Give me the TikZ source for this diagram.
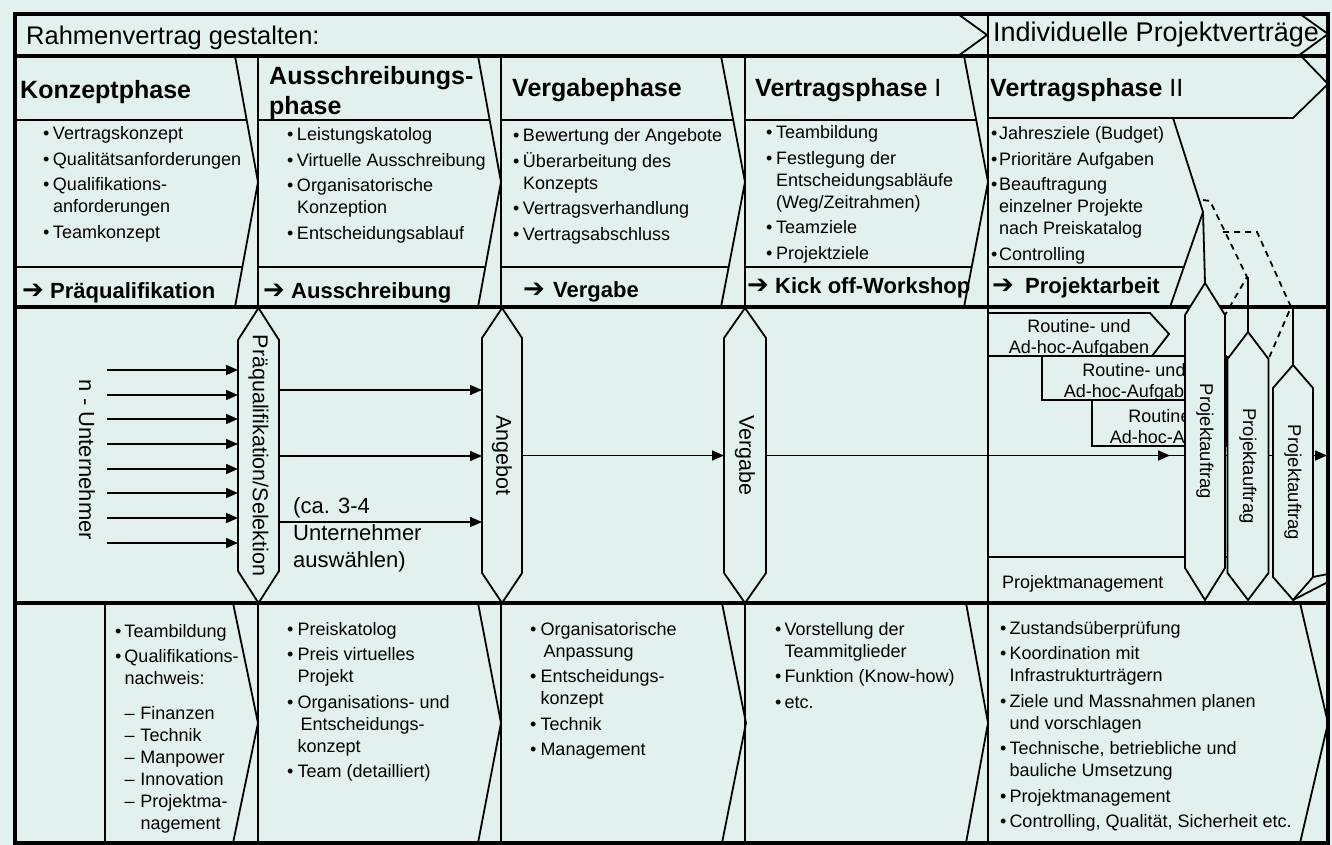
\documentclass[tikz,border=0pt]{standalone}
\usepackage{fontspec}
\setmainfont{Liberation Sans}
\newfontfamily\dejavu{DejaVu Sans}
\usetikzlibrary{arrows.meta,calc}
\definecolor{bgc}{RGB}{226,241,240}
\newcommand\fsz[2]{\fontsize{#1}{#2}\selectfont}
\newcommand\bu{\textbullet}
\newcommand\nx{\\[3.5pt]}
\newcommand\sdash{\makebox[16pt][l]{–}}
\newcommand\harr[1]{\makebox[#1][l]{\dejavu\bfseries\fontsize{26}{26}\selectfont ➔}}
\newenvironment{blist}[1]{\begin{tabular}[t]{@{}l@{\hspace{#1}}l@{}}}{\end{tabular}}
\newcommand\hexshape[2]{%
  \draw[hexl] (#1.north) -- ([yshift=-#2]#1.north east) -- ([yshift=#2]#1.south east)
    -- (#1.south) -- ([yshift=#2]#1.south west) -- ([yshift=-#2]#1.north west) -- cycle;}
\begin{document}
\begin{tikzpicture}[x=1pt,y=-1pt,
  thn/.style={line width=1.8pt},
  thk/.style={line width=3.5pt},
  hexl/.style={draw, fill=bgc, line width=1.8pt, line join=miter},
  arr/.style={line width=1.6pt, -{Triangle[length=12pt,width=10pt]}},
  dsh/.style={line width=1.8pt, dash pattern=on 6pt off 5pt},
  hbox/.style={inner sep=0pt, outer sep=0pt},
  hd/.style={anchor=base west, font=\fsz{25}{30}\bfseries, inner sep=0pt},
  al/.style={anchor=base west, font=\fsz{22}{26}\bfseries, inner sep=0pt},
  ls/.style={anchor=base west, font=\fsz{18}{22}, inner sep=0pt},
  rot/.style={rotate=-90, inner sep=0pt}]
\fill[bgc] (0,0) rectangle (1332,845);
\useasboundingbox (0,0) rectangle (1332,845);

% ---------- structure lines ----------
\draw[thn] (958,14) -- (987,35) -- (958,56);
\draw[thn] (1300,14) -- (1328,34) -- (1298,56);
\draw[thn] (988,14) -- (988,843);
\foreach \xx in {258,501,745} {
  \draw[thn] (\xx,56) -- (\xx,307);
  \draw[thn] (\xx,603) -- (\xx,843);}
\draw[thn] (105,603) -- (105,843);
\foreach \a/\b in {235/258, 478/501, 721/745, 964/988}
  \draw[thn] (\a,56) -- (\b,182) -- (\a,307);
\foreach \a/\b in {233/258, 478/501, 722/746, 966/988, 1300/1328}
  \draw[thn] (\a,603) -- (\b,723) -- (\a,843);
\foreach \a/\b in {15/246.7, 258/489.7, 501/732.7, 745/975.7}
  \draw[thn] (\a,120) -- (\b,120);
\foreach \a/\b in {15/242.3, 258/485.3, 501/728.3, 745/971.3, 988/1184}
  \draw[thn] (\a,267) -- (\b,267);
\draw[thn] (988,118) -- (1293,118) -- (1328,84) -- (1301,56);
\draw[thn] (1173,118) -- (1203,212) -- (1170,307);

\draw[thk] (15,56) -- (1328,56);
\draw[thk] (15,307) -- (1328,307);
\draw[thk] (15,603) -- (1328,603);

% ---------- middle band, right part ----------
\draw[thn] (989,313) -- (1150,313) -- (1169,334) -- (1152,356) -- (989,356);
\draw[thn] (1152,356) -- (1227,356);
\draw[thn] (1042,356) -- (1042,400) -- (1227,400);
\draw[thn] (1092,400) -- (1092,446) -- (1227,446);
\draw[thn] (1227,356) -- (1227,446);
\draw[thn] (988,557) -- (1227,557);
\node[anchor=base, font=\fsz{18}{21}, inner sep=0pt] (rt1) at (1079,332)
  {\begin{tabular}[t]{@{}c@{}}Routine- und\\Ad-hoc-Aufgaben\end{tabular}};
\node[anchor=base, font=\fsz{18}{21}, inner sep=0pt] (rt2) at (1134,376)
  {\begin{tabular}[t]{@{}c@{}}Routine- und\\Ad-hoc-Aufgaben\end{tabular}};
\node[anchor=base, font=\fsz{18}{21}, inner sep=0pt] (rt3) at (1180,422)
  {\begin{tabular}[t]{@{}c@{}}Routine- und\\Ad-hoc-Aufgaben\end{tabular}};
\node[ls] (pm) at (1002,588) {Projektmanagement};

% ---------- hexagon nodes ----------
\node[hbox, minimum width=41pt, minimum height=295pt] (pq) at (258.5,455.5) {};
\node[hbox, minimum width=40pt, minimum height=295pt] (ang) at (502,455.5) {};
\node[hbox, minimum width=42pt, minimum height=295pt] (verg) at (745,455.5) {};
\node[hbox, minimum width=40pt, minimum height=317pt] (pa1) at (1205,441.5) {};
\node[hbox, minimum width=41pt, minimum height=268pt] (pa2) at (1248,466) {};
\node[hbox, minimum width=40pt, minimum height=235pt] (pa3) at (1293,482.5) {};

% main line
\coordinate (tip1) at (1170,455.5);
\coordinate (rend) at (1327,455.5);
\draw[thn] (verg.east) -- (pa3.east |- verg.east);
\draw[arr] (verg.east) -- (tip1);
\draw[arr] (pa3.east |- rend) -- (rend);

\hexshape{pq}{32pt}
\hexshape{ang}{30pt}
\hexshape{verg}{30pt}
\hexshape{pa1}{32pt}
\hexshape{pa2}{27pt}
\hexshape{pa3}{23pt}

\node[rot, font=\fsz{21.5}{26}] (pqt) at (pq.center) {Präqualifikation/Selektion};
\node[rot, font=\fsz{21.5}{26}] (angt) at (ang.center) {Angebot};
\node[rot, font=\fsz{21.5}{26}] (vergt) at (verg.center) {Vergabe};
\node[rot, font=\fsz{18.5}{22}] (pa1t) at (pa1.center) {Projektauftrag};
\node[rot, font=\fsz{18.5}{22}] (pa2t) at (pa2.center) {Projektauftrag};
\node[rot, font=\fsz{18.5}{22}] (pa3t) at (pa3.center) {Projektauftrag};

% right-bottom corner lines
\coordinate (rc1) at (1328,574);
\coordinate (rc2) at (1328,582);
\draw[thn] ([yshift=23pt]pa3.south east) -- (rc1);
\draw[thn] (pa3.south) -- (rc2);

% dashed chevrons and connecting verticals
\draw[dsh] (1203,200) -- (1210,201) -- (1247,277) -- ([yshift=-32pt]pa1.north east);
\draw[dsh] (1223,232) -- (1257,232) -- (1291,307) -- ([yshift=-27pt]pa2.north east);
\coordinate (v1) at (1203,212);
\coordinate (v2) at (1248,277);
\coordinate (v3) at (1293,308);
\draw[thn] (v1) -- (pa1.north);
\draw[thn] (v2) -- (pa2.north);
\draw[thn] (v3) -- (pa3.north);

% ---------- left middle: n - Unternehmer ----------
\node[rot, font=\fsz{22}{26}] (nu) at (87,460) {n - Unternehmer};
\foreach \yy [count=\i] in {370,395,419,444,469,493,518,543} {
  \coordinate (u\i) at (107,\yy);
  \draw[arr] (u\i) -- (u\i -| pq.west);}
\coordinate (yA) at (0,390);
\coordinate (yB) at (0,456);
\coordinate (yC) at (0,522);
\draw[arr] (pq.east |- yA) -- (ang.west |- yA);
\draw[arr] (pq.east |- yB) -- (ang.west |- yB);
\draw[arr] (pq.east |- yC) -- (ang.west |- yC);
\draw[arr] (ang.east) -- (verg.west);
\node[anchor=base west, font=\fsz{22}{27}, inner sep=0pt] (ca) at (293,513)
  {\begin{tabular}[t]{@{}l@{}}(ca. 3-4\\Unternehmer\\auswählen)\end{tabular}};

% ---------- top band texts ----------
\node[anchor=base west, font=\fsz{25.5}{30}, inner sep=0pt] (rv) at (26,45) {Rahmenvertrag gestalten:};
\node[anchor=base west, font=\fsz{27}{30}, inner sep=0pt] (ipv) at (993,42) {Individuelle Projektverträge};

% headers
\node[hd] (h1) at (20,99) {Konzeptphase};
\node[hd] (h2) at (269,85) {\begin{tabular}[t]{@{}l@{}}Ausschreibungs-\\phase\end{tabular}};
\node[hd] (h3) at (512,97) {Vergabephase};
\node[hd] (h4) at (755,97) {Vertragsphase \mdseries I};
\node[hd] (h5) at (990,97) {Vertragsphase \mdseries II};

% top lists
\node[ls] (t1) at (43,140) {\begin{blist}{3.5pt}
  \bu & Vertragskonzept\nx
  \bu & Qualitätsanforderungen\nx
  \bu & Qualifikations-\\ & anforderungen\nx
  \bu & Teamkonzept\end{blist}};
\node[ls] (t2) at (287,141) {\begin{blist}{3.5pt}
  \bu & Leistungskatolog\nx
  \bu & Virtuelle Ausschreibung\nx
  \bu & Organisatorische\\ & Konzeption\nx
  \bu & Entscheidungsablauf\end{blist}};
\node[ls] (t3) at (513,142) {\begin{blist}{3.5pt}
  \bu & Bewertung der Angebote\nx
  \bu & Überarbeitung des\\ & Konzepts\nx
  \bu & Vertragsverhandlung\nx
  \bu & Vertragsabschluss\end{blist}};
\node[ls] (t4) at (766,139) {\begin{blist}{3.5pt}
  \bu & Teambildung\nx
  \bu & Festlegung der\\ & Entscheidungsabläufe\\ & (Weg/Zeitrahmen)\nx
  \bu & Teamziele\nx
  \bu & Projektziele\end{blist}};
\node[ls] (t5) at (991,140) {\begin{blist}{1.5pt}
  \bu & Jahresziele (Budget)\nx
  \bu & Prioritäre Aufgaben\nx
  \bu & Beauftragung\\ & einzelner Projekte\\ & nach Preiskatalog\nx
  \bu & Controlling\end{blist}};

% arrow labels
\node[al] (a1) at (22,298) {\harr{28pt}Präqualifikation};
\node[al] (a2) at (263,298) {\harr{28pt}Ausschreibung};
\node[al] (a3) at (523,297) {\harr{30pt}Vergabe};
\node[al] (a4) at (747,293) {\harr{28pt}Kick off-Workshop};
\node[al] (a5) at (992,293) {\harr{33pt}Projektarbeit};

% bottom lists
\node[ls] (b1) at (115,637) {\begin{blist}{3pt}
  \bu & Teambildung\nx
  \bu & Qualifikations-\\ & nachweis:\\[13pt]
  & \sdash Finanzen\\ & \sdash Technik\\ & \sdash Manpower\\
  & \sdash Innovation\\ & \sdash Projektma-\\ & \hspace{16pt}nagement\end{blist}};
\node[ls] (b2) at (287,635) {\begin{blist}{4pt}
  \bu & Preiskatolog\nx
  \bu & Preis virtuelles\\ & Projekt\nx
  \bu & Organisations- und\\ & \hspace{3pt}Entscheidungs-\\ & konzept\nx
  \bu & Team (detailliert)\end{blist}};
\node[ls] (b3) at (530,635) {\begin{blist}{4pt}
  \bu & Organisatorische\\ & \hspace{3pt}Anpassung\nx
  \bu & Entscheidungs-\\ & konzept\nx
  \bu & Technik\nx
  \bu & Management\end{blist}};
\node[ls] (b4) at (775,635) {\begin{blist}{3pt}
  \bu & Vorstellung der\\ & Teammitglieder\nx
  \bu & Funktion (Know-how)\nx
  \bu & etc.\end{blist}};
\node[ls] (b5) at (1000,634) {\begin{blist}{3pt}
  \bu & Zustandsüberprüfung\nx
  \bu & Koordination mit\\ & Infrastrukturträgern\nx
  \bu & Ziele und Massnahmen planen\\ & und vorschlagen\nx
  \bu & Technische, betriebliche und\\ & bauliche Umsetzung\nx
  \bu & Projektmanagement\nx
  \bu & Controlling, Qualität, Sicherheit etc.\end{blist}};

% outer frame
\draw[thk] (15,14) rectangle (1328,843);
\end{tikzpicture}
\end{document}
